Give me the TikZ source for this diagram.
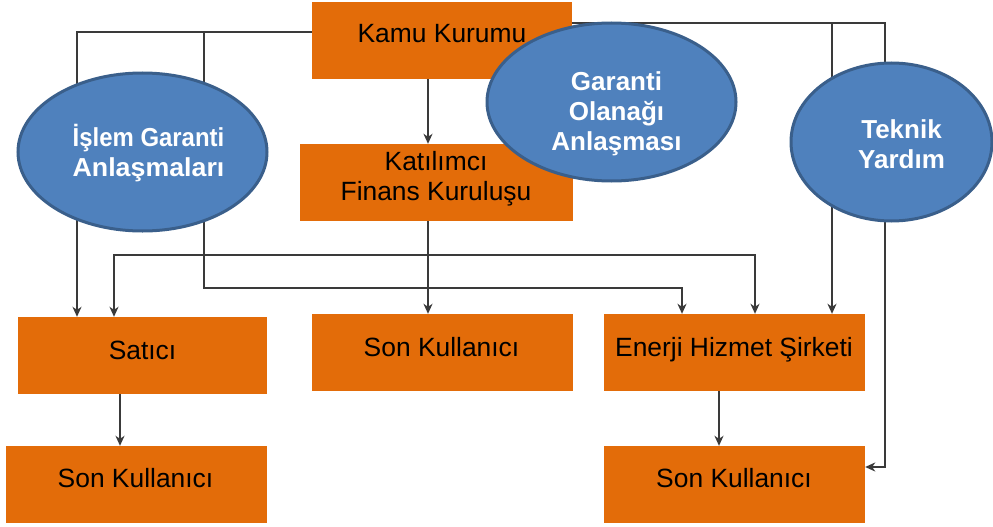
\documentclass[tikz,border=0pt]{standalone}
\usepackage{fontspec}
\usepackage{graphicx}
\setmainfont{Liberation Sans}
\usetikzlibrary{arrows.meta,shapes.geometric}
\definecolor{boxorange}{HTML}{E36C09}
\definecolor{ovalblue}{HTML}{4F81BD}
\definecolor{ovaledge}{HTML}{3A5F8B}
\definecolor{wire}{HTML}{3A3A3A}
\tikzset{
  stepbox/.style={rectangle, fill=boxorange, inner sep=0pt, minimum height=77pt},
  boxtext/.style={anchor=base, align=center, font=\fontsize{26.4pt}{30pt}\selectfont, text=black, inner sep=0pt},
  oval/.style={ellipse, fill=ovalblue, draw=ovaledge, line width=3pt, inner sep=0pt, minimum height=158pt},
  ovaltext/.style={anchor=base, align=center, font=\fontsize{26pt}{30pt}\selectfont\bfseries, text=white, inner sep=0pt},
  conn/.style={draw=wire, line width=1.5pt},
  tip/.style={-{Stealth[length=10pt,width=9pt,inset=3pt]}}
}
\begin{document}
\begin{tikzpicture}[x=1pt,y=-1pt]
\useasboundingbox (0,0) rectangle (993,527);

% orange boxes
\node[stepbox, minimum width=260pt] (kamu) at (442,40.5) {};
\node[stepbox, minimum width=273pt] (kat)  at (436.5,182.5) {};
\node[stepbox, minimum width=249pt] (sat)  at (142.5,355.5) {};
\node[stepbox, minimum width=261pt] (sonm) at (442.5,352.5) {};
\node[stepbox, minimum width=261pt] (ehs)  at (734.5,352.5) {};
\node[stepbox, minimum width=261pt] (sonl) at (136.5,484.5) {};
\node[stepbox, minimum width=261pt] (sonr) at (734.5,484.5) {};

% box labels (anchored on the baseline of the last line)
\node[boxtext] (kamut) at (442,43) {Kamu Kurumu};
\node[boxtext] (katt)  at (436,200) {Katılımcı\\Finans Kuruluşu};
\node[boxtext] (satt)  at (142.5,359) {Satıcı};
\node[boxtext] (sonmt) at (441.5,356) {Son Kullanıcı};
\node[boxtext] (ehst)  at (734,356) {Enerji Hizmet Şirketi};
\node[boxtext] (sonlt) at (135.5,487) {Son Kullanıcı};
\node[boxtext] (sonrt) at (734,487) {Son Kullanıcı};

% junction points of the branching lines
\coordinate (jl) at (204,32);
\coordinate (jm) at (428,255);
\coordinate (jr) at (832,23);

% connectors
\draw[conn,tip] ([yshift=8.5pt]kamu.west) -| ([xshift=-65.5pt]sat.north);
\draw[conn,tip] (jl) -- ++(0,256) -| ([xshift=-52.5pt]ehs.north);
\draw[conn,tip] ([xshift=-14pt]kamu.south) -- ([xshift=-8.5pt]kat.north);
\draw[conn,tip] ([xshift=-8.5pt]kat.south) -- ([xshift=-14.5pt]sonm.north);
\draw[conn,tip] (jm) -| ([xshift=-28.5pt]sat.north);
\draw[conn,tip] (jm) -| ([xshift=20.5pt]ehs.north);
\draw[conn,tip] ([yshift=17.5pt]kamu.east) -| ([xshift=20pt,yshift=17.5pt]sonr.east) -- ([yshift=17.5pt]sonr.east);
\draw[conn,tip] (jr) -- (jr |- ehs.north);
\draw[conn,tip] ([xshift=-22.5pt]sat.south) -- ([xshift=-16.5pt]sonl.north);
\draw[conn,tip] ([xshift=-15.5pt]ehs.south) -- ([xshift=-15.5pt]sonr.north);

% agreement ovals
\node[oval, minimum width=249pt] (islem)  at (142.5,152) {};
\node[oval, minimum width=249pt] (garanti) at (611.5,102) {};
\node[oval, minimum width=201pt] (teknik) at (891.5,142) {};

\node[ovaltext] (islemt)   at (148.5,176) {\scalebox{0.92}[1]{İşlem Garanti}\\\scalebox{1.03}[1]{Anlaşmaları}};
\node[ovaltext] (garantit) at (616.5,150) {Garanti\\Olanağı\\Anlaşması};
\node[ovaltext] (teknikt)  at (901.5,168) {Teknik\\Yardım};
\end{tikzpicture}
\end{document}
